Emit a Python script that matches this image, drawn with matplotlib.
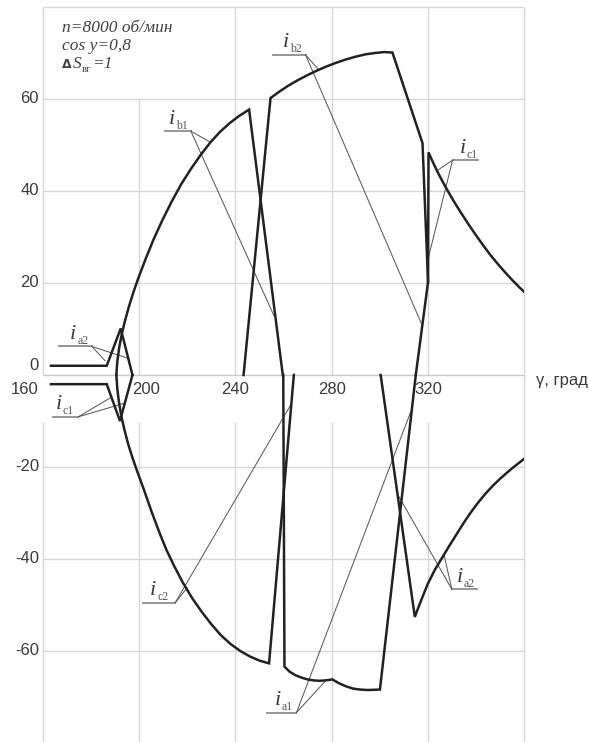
import matplotlib
matplotlib.use("Agg")
import matplotlib.pyplot as plt

# --- кривые токов (верхняя половина: i >= 0) ---
ia2_top_x = [163.3, 186.5, 192.3, 197.2]
ia2_top_y = [2.0, 2.0, 10.1, 0.0]

ib1_x = [190.5, 190.9, 191.7, 192.8, 194.2, 195.8, 197.6, 199.6, 202.5, 206.0,
         209.5, 213.5, 217.5, 221.5, 225.5, 229.5, 233.5, 237.5, 241.5, 245.7, 259.7]
ib1_y = [0.0, 3.0, 6.0, 9.0, 12.0, 15.0, 18.0, 21.0, 25.0, 29.5,
         33.5, 37.7, 41.5, 44.8, 47.8, 50.5, 52.8, 54.7, 56.3, 57.7, 0.0]

ib2_x = [243.4, 254.6, 258.0, 262.0, 266.0, 270.0, 274.0, 278.0, 282.0, 286.0,
         290.0, 294.0, 298.0, 302.0, 305.3, 317.8, 320.1]
ib2_y = [0.0, 60.2, 61.5, 62.9, 64.1, 65.2, 66.2, 67.1, 67.9, 68.6,
         69.2, 69.7, 70.0, 70.2, 70.1, 50.4, 20.2]

ic1_x = [315.0, 320.1, 320.3, 322.0, 324.0, 326.0, 328.0, 331.0, 334.0, 337.0,
         340.0, 343.0, 346.0, 349.0, 352.0, 355.0, 358.0, 360.0]
ic1_y = [0.0, 20.2, 48.4, 46.4, 44.2, 42.2, 40.3, 37.6, 35.1, 32.7,
         30.4, 28.2, 26.1, 24.2, 22.4, 20.7, 19.1, 18.1]

# --- нижняя половина: i <= 0 ---
ic1_low_x = [163.3, 186.5, 192.0, 197.2]
ic1_low_y = [-2.0, -2.0, -10.0, 0.0]

ic2_x = [190.5, 190.9, 191.6, 192.6, 193.9, 195.4, 197.2, 199.2, 202.0, 205.0,
         208.2, 211.3, 214.5, 218.0, 222.0, 226.0, 230.0, 234.0, 238.0, 242.0,
         246.0, 250.0, 254.0, 264.3]
ic2_y = [0.0, -3.0, -6.0, -9.0, -12.0, -15.0, -18.0, -21.0, -25.0, -29.5,
         -34.0, -38.0, -41.5, -45.0, -48.5, -51.5, -54.2, -56.6, -58.5, -60.0,
         -61.2, -62.1, -62.7, 0.0]

ia1_x = [259.9, 260.4, 262.5, 265.0, 267.5, 270.0, 272.5, 275.0, 277.5, 280.3,
         283.0, 286.0, 289.0, 292.0, 295.0, 300.1, 315.0]
ia1_y = [0.0, -63.4, -64.5, -65.3, -65.8, -66.2, -66.4, -66.5, -66.4, -66.2,
         -67.0, -67.7, -68.2, -68.4, -68.5, -68.4, 0.0]

ia2_x = [300.4, 314.6, 317.0, 320.0, 323.0, 326.0, 329.0, 332.0, 335.0, 338.0,
         341.0, 344.0, 347.0, 350.0, 353.0, 356.0, 360.4]
ia2_y = [0.0, -52.6, -49.3, -45.4, -42.3, -39.7, -37.1, -34.6, -32.1, -29.8,
         -27.7, -25.8, -24.1, -22.6, -21.2, -19.9, -18.1]

curves = [(ia2_top_x, ia2_top_y), (ib1_x, ib1_y), (ib2_x, ib2_y), (ic1_x, ic1_y),
          (ic1_low_x, ic1_low_y), (ic2_x, ic2_y), (ia1_x, ia1_y), (ia2_x, ia2_y)]

# --- выноски: подпись, полка (x0, x1, y), точка крепления, цели на кривых ---
lbl_subs = ["a2", "c1", "b1", "b2", "c1", "c2", "a1", "a2"]
lbl_shelf = [(166.8, 180.3, 6.2), (164.3, 174.7, -9.1), (210.8, 221.5, 53.0),
             (255.5, 269.2, 69.6), (330.3, 341.0, 46.7), (201.5, 215.0, -49.5),
             (253.2, 265.4, -73.4), (330.0, 340.4, -46.6)]
lbl_text_x = [171.3, 165.4, 212.2, 259.6, 333.1, 204.6, 256.3, 332.1]
lbl_anchor = ["right", "right", "right", "right", "left", "right", "right", "left"]
lbl_targets = [[(185.8, 3.1), (195.5, 3.6)],
               [(187.9, -5.0), (193.5, -6.2)],
               [(229.6, 50.6), (256.0, 12.9)],
               [(274.7, 66.3), (317.4, 11.1)],
               [(323.8, 44.4), (320.3, 25.6)],
               [(219.9, -46.3), (262.9, -6.6)],
               [(277.5, -66.5), (312.9, -8.0)],
               [(307.5, -26.0), (326.8, -39.2)]]

yticks_up = [60, 40, 20]
yticks_low = [-20, -40, -60]
xticks = [160, 200, 240, 280, 320]

GRID = "#d6d6d6"
INK = "#222222"
TXT = "#3a3a3a"

fig = plt.figure(figsize=(5.9, 7.42), dpi=100)
ax = fig.add_axes([43 / 590, 0, 481 / 590, 735 / 742])
ax.set_xlim(160, 360)
ax.set_ylim(-79.8, 80)
ax.axis("off")

# сетка: верхняя и нижняя части с разрывом под подписями оси
ax.hlines(yticks_up + [80] + yticks_low, 160, 360, color=GRID, lw=1.0, clip_on=False, zorder=0)
ax.hlines(0, 160, 360, color="#c8c8c8", lw=1.0, zorder=0)
for x in xticks:
    top = 60 if x == 200 else 80
    ax.vlines(x, 0, top, color=GRID, lw=1.0, clip_on=False, zorder=0)
    ax.vlines(x, -79.8, -10.2, color=GRID, lw=1.0, clip_on=False, zorder=0)
ax.vlines(360, -79.8, 80, color=GRID, lw=1.0, clip_on=False, zorder=0)

for cx, cy in curves:
    ax.plot(cx, cy, color=INK, lw=1.8, solid_joinstyle="miter", zorder=3)

# выноски
serif = "Liberation Serif"
for sub, (x0, x1, y), tx, anc, targets in zip(lbl_subs, lbl_shelf, lbl_text_x, lbl_anchor, lbl_targets):
    ax.plot([x0, x1], [y, y], color="#8c8c8c", lw=1.3, zorder=2)
    xa = x1 if anc == "right" else x0
    for px, py in targets:
        ax.plot([xa, px], [y, py], color="#5a5a5a", lw=0.75, zorder=2)
    ax.annotate("i", (tx, y), xytext=(0, 7.5), textcoords="offset pixels",
                fontsize=16, family=serif, style="italic", color=TXT,
                ha="left", va="baseline")
    ax.annotate(sub, (tx, y), xytext=(7, 2.5), textcoords="offset pixels",
                fontsize=8.5, family=serif, color="#555555", ha="left", va="baseline")

# подписи осей
sans = "Liberation Sans"
for v in yticks_up + yticks_low:
    ax.text(158.3, v, f"{v}", ha="right", va="center", fontsize=12, family=sans, color=TXT)
ax.text(158.3, 2.0, "0", ha="right", va="center", fontsize=12, family=sans, color=TXT)
ax.text(158.3, -3.1, "160", ha="right", va="center", fontsize=12, family=sans, color=TXT)
ax.text(202.7, -3.1, "200", ha="center", va="center", fontsize=12, family=sans, color=TXT)
for x in xticks[2:]:
    ax.text(x, -3.1, f"{x}", ha="center", va="center", fontsize=12, family=sans, color=TXT)
ax.text(365.0, -1.3, "γ, град", ha="left", va="center", fontsize=12, family=sans, color=TXT)

# параметры режима
info = dict(family=serif, style="italic", fontsize=12.5, color="#404040", va="baseline", ha="left")
ax.annotate("n=8000 об/мин", (160, 80), xytext=(19, -24.7), textcoords="offset pixels", **info)
ax.annotate("cos y=0,8", (160, 80), xytext=(19, -43), textcoords="offset pixels", **info)
ax.annotate("Δ", (160, 80), xytext=(19, -61.3), textcoords="offset pixels",
            family="DejaVu Sans", weight="bold", fontsize=9, color="#404040", va="baseline")
ax.annotate("S", (160, 80), xytext=(30, -61.3), textcoords="offset pixels", **info)
ax.annotate("вг", (160, 80), xytext=(38.5, -64.5), textcoords="offset pixels",
            family=serif, fontsize=7.5, color="#404040", va="baseline")
ax.annotate("=1", (160, 80), xytext=(49, -61.3), textcoords="offset pixels", **info)

fig.savefig("out.png", dpi=100)
